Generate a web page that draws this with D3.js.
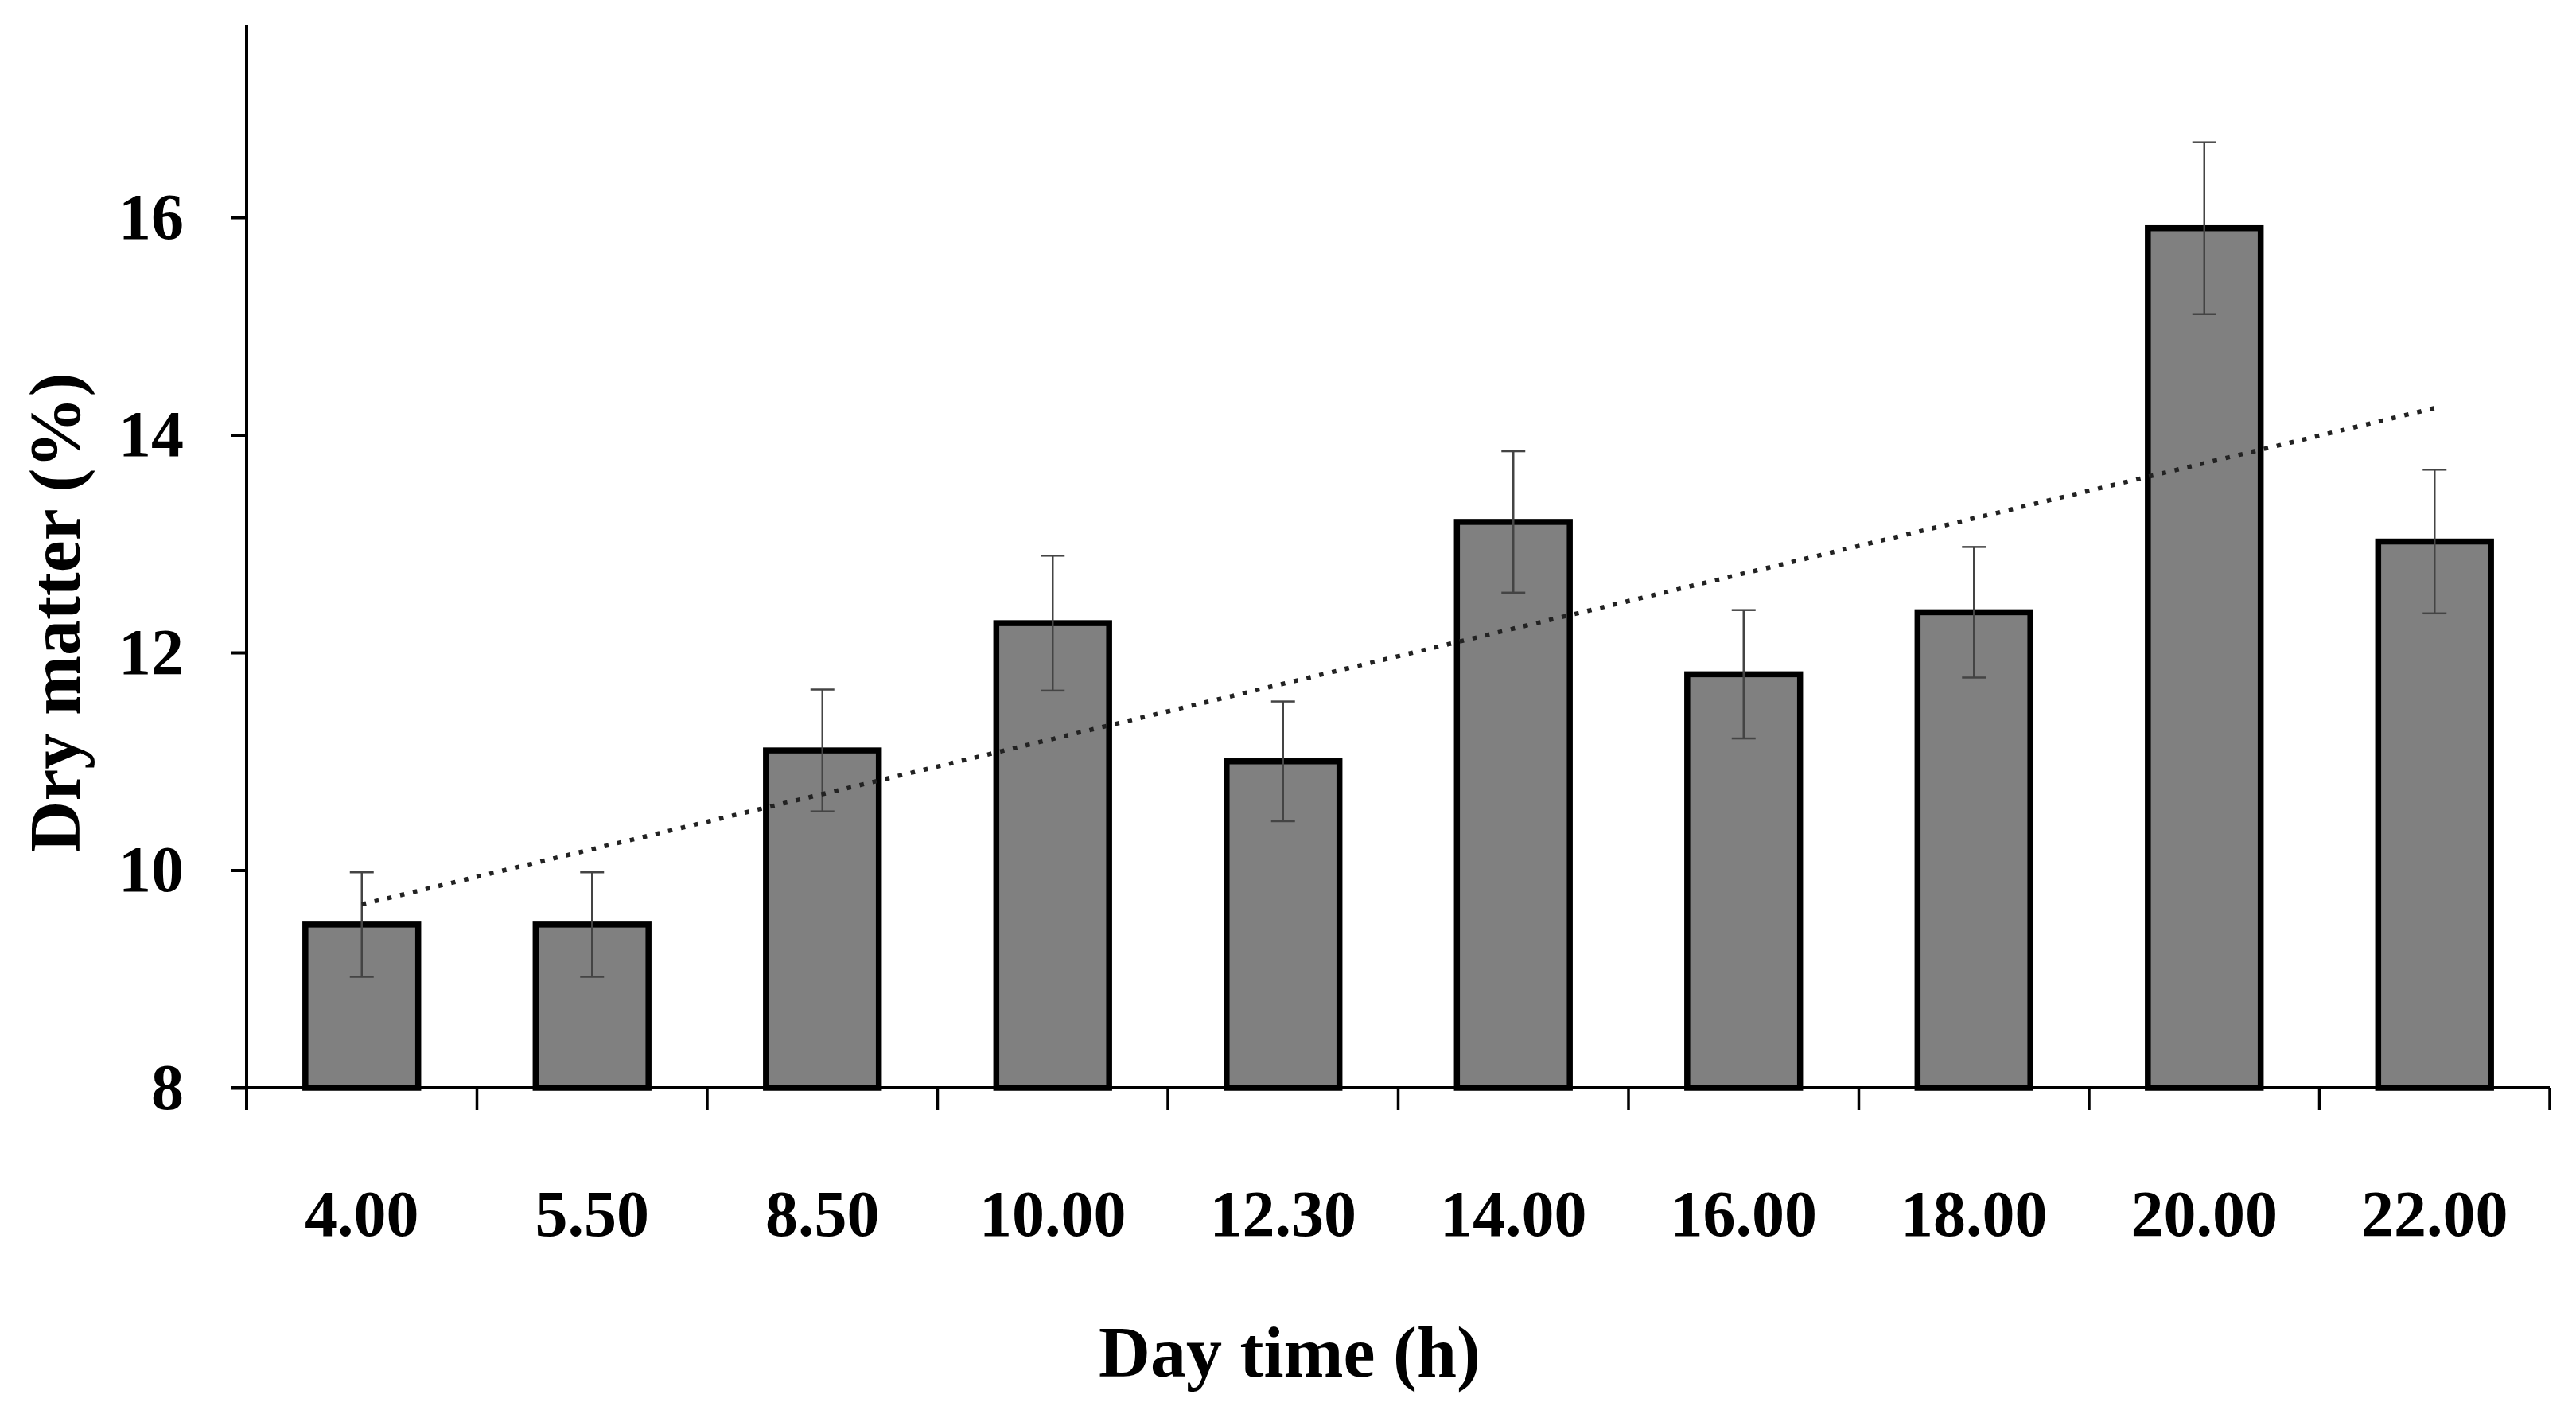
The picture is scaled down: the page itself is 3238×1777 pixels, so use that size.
<!DOCTYPE html>
<html>
<head>
<meta charset="utf-8">
<script src="https://cdn.jsdelivr.net/npm/d3@7"></script>
<style>
  html, body { margin: 0; padding: 0; background: #fff; }
  svg { display: block; }
  text { font-family: "Liberation Serif", "Times New Roman", serif; font-weight: bold; fill: #000; }
</style>
</head>
<body>
<svg id="chart" width="3238" height="1777"></svg>
<script>
// ---- data ----
const categories = ["4.00", "5.50", "8.50", "10.00", "12.30", "14.00", "16.00", "18.00", "20.00", "22.00"];
const dryMatter  = [9.5, 9.5, 11.1, 12.27, 11.0, 13.2, 11.8, 12.37, 15.9, 13.02];
const errors     = [0.48, 0.48, 0.56, 0.62, 0.55, 0.65, 0.59, 0.6, 0.79, 0.66];
const yTicks     = [8, 10, 12, 14, 16];
const yDomain    = [8, 17.77];
const xTitle = "Day time (h)";
const yTitle = "Dry matter (%)";

// ---- layout ----
const W = 3238, H = 1777;
const m = { left: 310, right: 33, top: 31, bottom: 410 };
const iw = W - m.left - m.right, ih = H - m.top - m.bottom;

const svg = d3.select("#chart");
const g = svg.append("g").attr("transform", `translate(${m.left},${m.top})`);

const x = d3.scaleBand().domain(categories).range([0, iw]).padding(0);
const y = d3.scaleLinear().domain(yDomain).range([ih, 0]);
const barFrac = 0.49;
const bw = x.bandwidth() * barFrac;
const cx = d => x(d) + x.bandwidth() / 2;

// bars
g.selectAll("rect.bar").data(categories).join("rect")
  .attr("class", "bar")
  .attr("x", d => cx(d) - bw / 2)
  .attr("width", bw)
  .attr("y", (d, i) => y(dryMatter[i]))
  .attr("height", (d, i) => y(yDomain[0]) - y(dryMatter[i]))
  .attr("fill", "#808080")
  .attr("stroke", "#000")
  .attr("stroke-width", 7.5)
  .attr("stroke-linejoin", "miter");

// error bars
const capW = 30;
const eb = g.append("g").attr("stroke", "#444").attr("stroke-width", 2.5).attr("fill", "none");
categories.forEach((d, i) => {
  const hi = y(dryMatter[i] + errors[i]), lo = y(dryMatter[i] - errors[i]);
  eb.append("line").attr("x1", cx(d)).attr("x2", cx(d)).attr("y1", hi).attr("y2", lo);
  eb.append("line").attr("x1", cx(d) - capW / 2).attr("x2", cx(d) + capW / 2).attr("y1", hi).attr("y2", hi);
  eb.append("line").attr("x1", cx(d) - capW / 2).attr("x2", cx(d) + capW / 2).attr("y1", lo).attr("y2", lo);
});

// linear trendline (least squares over category index)
const n = dryMatter.length;
const xs = d3.range(1, n + 1);
const mx = d3.mean(xs), my = d3.mean(dryMatter);
const slope = d3.sum(xs, (v, i) => (v - mx) * (dryMatter[i] - my)) / d3.sum(xs, v => (v - mx) ** 2);
const icpt = my - slope * mx;
g.append("line")
  .attr("x1", cx(categories[0])).attr("y1", y(icpt + slope * 1))
  .attr("x2", cx(categories[n - 1])).attr("y2", y(icpt + slope * n))
  .attr("stroke", "#222").attr("stroke-width", 5.5)
  .attr("stroke-dasharray", "5.5,11");

// y axis
const yAxis = g.append("g")
  .call(d3.axisLeft(y).tickValues(yTicks).tickSize(20).tickSizeOuter(0).tickPadding(59).tickFormat(d3.format("d")));
yAxis.select(".domain").remove();
yAxis.selectAll(".tick line").attr("stroke", "#000").attr("stroke-width", 4);
yAxis.selectAll(".tick text").attr("font-size", 82).attr("font-family", null);
yAxis.attr("font-family", null);

// axis lines
g.append("line").attr("x1", 0).attr("x2", 0).attr("y1", 0).attr("y2", ih + 28)
  .attr("stroke", "#000").attr("stroke-width", 4);
g.append("line").attr("x1", -20).attr("x2", iw).attr("y1", ih).attr("y2", ih)
  .attr("stroke", "#000").attr("stroke-width", 4);

// x boundary ticks
const bounds = categories.map(d => x(d)).concat([iw]);
g.selectAll("line.xb").data(bounds).join("line")
  .attr("class", "xb")
  .attr("x1", d => d).attr("x2", d => d)
  .attr("y1", ih).attr("y2", ih + 28)
  .attr("stroke", "#000").attr("stroke-width", 3.5);

// x labels
const xAxis = g.append("g").attr("transform", `translate(0,${ih})`)
  .call(d3.axisBottom(x).tickSize(0).tickSizeOuter(0));
xAxis.select(".domain").remove();
xAxis.attr("font-family", null);
xAxis.selectAll(".tick text").attr("font-size", 82).attr("font-family", null)
  .attr("y", 186).attr("dy", 0);

// titles
svg.append("text")
  .attr("x", 1621).attr("y", 1730)
  .attr("text-anchor", "middle").attr("font-size", 90)
  .text(xTitle);
svg.append("text")
  .attr("transform", "translate(100,770) rotate(-90)")
  .attr("text-anchor", "middle").attr("font-size", 90)
  .text(yTitle);
</script>
</body>
</html>
